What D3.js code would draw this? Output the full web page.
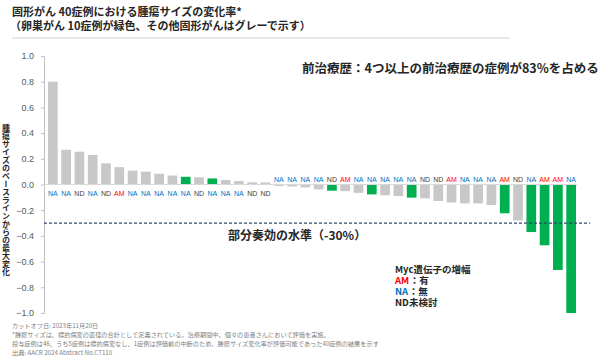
<!DOCTYPE html>
<html>
<head>
<meta charset="utf-8">
<script src="https://cdn.jsdelivr.net/npm/d3@7"></script>
<style>
  body { margin: 0; background: #fff; }
  svg { display: block; }
</style>
</head>
<body>
<div id="chart"></div>
<script>
// 40 cases, sorted by change
var cases = d3.range(1, 41);
var changes = [0.80, 0.27, 0.255, 0.23, 0.165, 0.135, 0.108, 0.10, 0.084, 0.07,
  0.06, 0.056, 0.047, 0.035, 0.027, 0.017, 0.016, -0.012, -0.015, -0.022,
  -0.038, -0.048, -0.052, -0.065, -0.077, -0.084, -0.09, -0.102, -0.108, -0.128,
  -0.14, -0.147, -0.147, -0.16, -0.224, -0.28, -0.37, -0.473, -0.665, -1.0];
// 卵巣がん = true
var ovarian = [false, false, false, false, false, false, false, false, false, false,
  true, false, true, false, false, false, false, false, false, false,
  false, true, false, false, true, false, false, true, false, false,
  false, false, false, false, true, false, true, true, true, true];
var myc = ["NA", "NA", "ND", "NA", "ND", "AM", "NA", "NA", "NA", "NA",
  "NA", "ND", "NA", "NA", "NA", "ND", "ND", "NA", "NA", "NA",
  "NA", "ND", "AM", "NA", "NA", "NA", "NA", "NA", "ND", "ND",
  "AM", "NA", "NA", "NA", "AM", "ND", "NA", "AM", "AM", "NA"];
var yTicks = [1.0, 0.8, 0.6, 0.4, 0.2, 0.0, -0.2, -0.4, -0.6, -0.8, -1.0];
var prThreshold = -0.3;

var footnotes = [
  "カットオフ日: 2023年11月20日",
  "*腫瘍サイズは、標的病変の直径の合計として定義されている。治療期間中、個々の患者さんにおいて評価を実施。",
  "投与症例は46、うち5症例は標的病変なし、1症例は評価前の中断のため、腫瘍サイズ変化率が評価可能であった40症例の結果を示す",
  "出典: AACR 2024 Abstract No.CT110"
];

var data = cases.map(function(c, i) {
  return { id: c, v: changes[i], ov: ovarian[i], myc: myc[i] };
});

var svgWidth = 614;
var svgHeight = 362;
var jp = "'Noto Sans CJK JP', 'Noto Sans', sans-serif";
var latin = "'Liberation Sans', Arial, sans-serif";
var mycColor = { AM: "#ff0000", NA: "#0070c0", ND: "#404040" };

var svg = d3.select("#chart")
  .append("svg")
  .attr("width", svgWidth)
  .attr("height", svgHeight);

// title
svg.append("text")
  .attr("x", 12).attr("y", 16)
  .attr("font-family", jp).attr("font-size", 11).attr("font-weight", "bold")
  .attr("fill", "#262626")
  .text("固形がん 40症例における腫瘍サイズの変化率*");
svg.append("text")
  .attr("x", 10).attr("y", 29.5)
  .attr("font-family", jp).attr("font-size", 11).attr("font-weight", "bold")
  .attr("fill", "#262626")
  .text("（卵巣がん 10症例が緑色、その他固形がんはグレーで示す）");
svg.append("line")
  .attr("x1", 12).attr("x2", 510).attr("y1", 38).attr("y2", 38)
  .attr("stroke", "#d0d0d0").attr("stroke-width", 1);

var x = d3.scaleBand()
  .domain(cases)
  .range([44, 580])
  .paddingInner(0.27)
  .paddingOuter(0.3);

var y = d3.scaleLinear()
  .domain([-1, 1])
  .range([313, 56]);

// y axis
var yAxis = svg.append("g")
  .attr("transform", "translate(44,0)")
  .call(d3.axisLeft(y).tickValues(yTicks).tickFormat(d3.format(".1f")).tickSize(3).tickPadding(7));
yAxis.select(".domain").attr("stroke", "#bfbfbf");
yAxis.selectAll(".tick line").attr("stroke", "#bfbfbf");
yAxis.selectAll("text")
  .attr("font-family", latin).attr("font-size", 9).attr("fill", "#595959");

svg.append("text")
  .attr("x", 6).attr("y", 200)
  .attr("text-anchor", "middle")
  .style("writing-mode", "vertical-rl")
  .attr("font-family", jp).attr("font-size", 8).attr("font-weight", "bold")
  .attr("fill", "#262626")
  .text("腫瘍サイズのベースラインからの最大変化");

// bars
svg.selectAll("rect.bar")
  .data(data)
  .enter()
  .append("rect")
  .attr("class", "bar")
  .attr("x", d => x(d.id))
  .attr("width", x.bandwidth())
  .attr("y", d => y(Math.max(0, d.v)))
  .attr("height", d => Math.abs(y(d.v) - y(0)))
  .attr("fill", d => d.ov ? "#00b050" : "#c8c8c8");

// zero line
svg.append("line")
  .attr("x1", 44).attr("x2", 577)
  .attr("y1", y(0)).attr("y2", y(0))
  .attr("stroke", "#d9d9d9").attr("stroke-width", 1);

// partial response line
svg.append("line")
  .attr("x1", 44).attr("x2", 590)
  .attr("y1", y(prThreshold)).attr("y2", y(prThreshold))
  .attr("stroke", "#2f4a6d").attr("stroke-width", 1.2)
  .attr("stroke-dasharray", "3,2");
svg.append("text")
  .attr("x", 228).attr("y", 239.5)
  .attr("font-family", jp).attr("font-size", 12).attr("font-weight", "bold")
  .attr("fill", "#262626")
  .text("部分奏効の水準（-30%）");

// Myc labels
svg.selectAll("text.myc")
  .data(data)
  .enter()
  .append("text")
  .attr("class", "myc")
  .attr("x", d => x(d.id) + x.bandwidth() / 2)
  .attr("y", d => d.v >= 0 ? y(0) + 11.5 : y(0) - 2.5)
  .attr("text-anchor", "middle")
  .attr("font-family", latin).attr("font-size", 7)
  .attr("fill", d => mycColor[d.myc])
  .text(d => d.myc);

// annotation
svg.append("text")
  .attr("x", 302).attr("y", 72.5)
  .attr("font-family", jp).attr("font-size", 12.5).attr("font-weight", "bold")
  .attr("fill", "#262626")
  .text("前治療歴：4つ以上の前治療歴の症例が83%を占める");

// legend
var legend = svg.append("g")
  .attr("font-family", jp).attr("font-size", 9.5).attr("font-weight", "bold");
legend.append("text").attr("x", 395).attr("y", 273).attr("fill", "#262626").text("Myc遺伝子の増幅");
[["AM", "：有", 284], ["NA", "：無", 295]].forEach(function(r) {
  var k = legend.append("text").attr("x", 395).attr("y", r[2])
    .attr("fill", mycColor[r[0]]).text(r[0]);
  var w = k.node().getComputedTextLength();
  legend.append("text").attr("x", 395 + w + 0.5).attr("y", r[2])
    .attr("fill", "#262626").text(r[1]);
});
legend.append("text").attr("x", 395).attr("y", 306).attr("fill", "#262626").text("ND未検討");

// footnotes
svg.selectAll("text.note")
  .data(footnotes)
  .enter()
  .append("text")
  .attr("class", "note")
  .attr("x", 12)
  .attr("y", (d, i) => 328 + i * 8.9)
  .attr("font-family", jp).attr("font-size", 6.2)
  .attr("fill", "#808080")
  .text(d => d);
</script>
</body>
</html>
